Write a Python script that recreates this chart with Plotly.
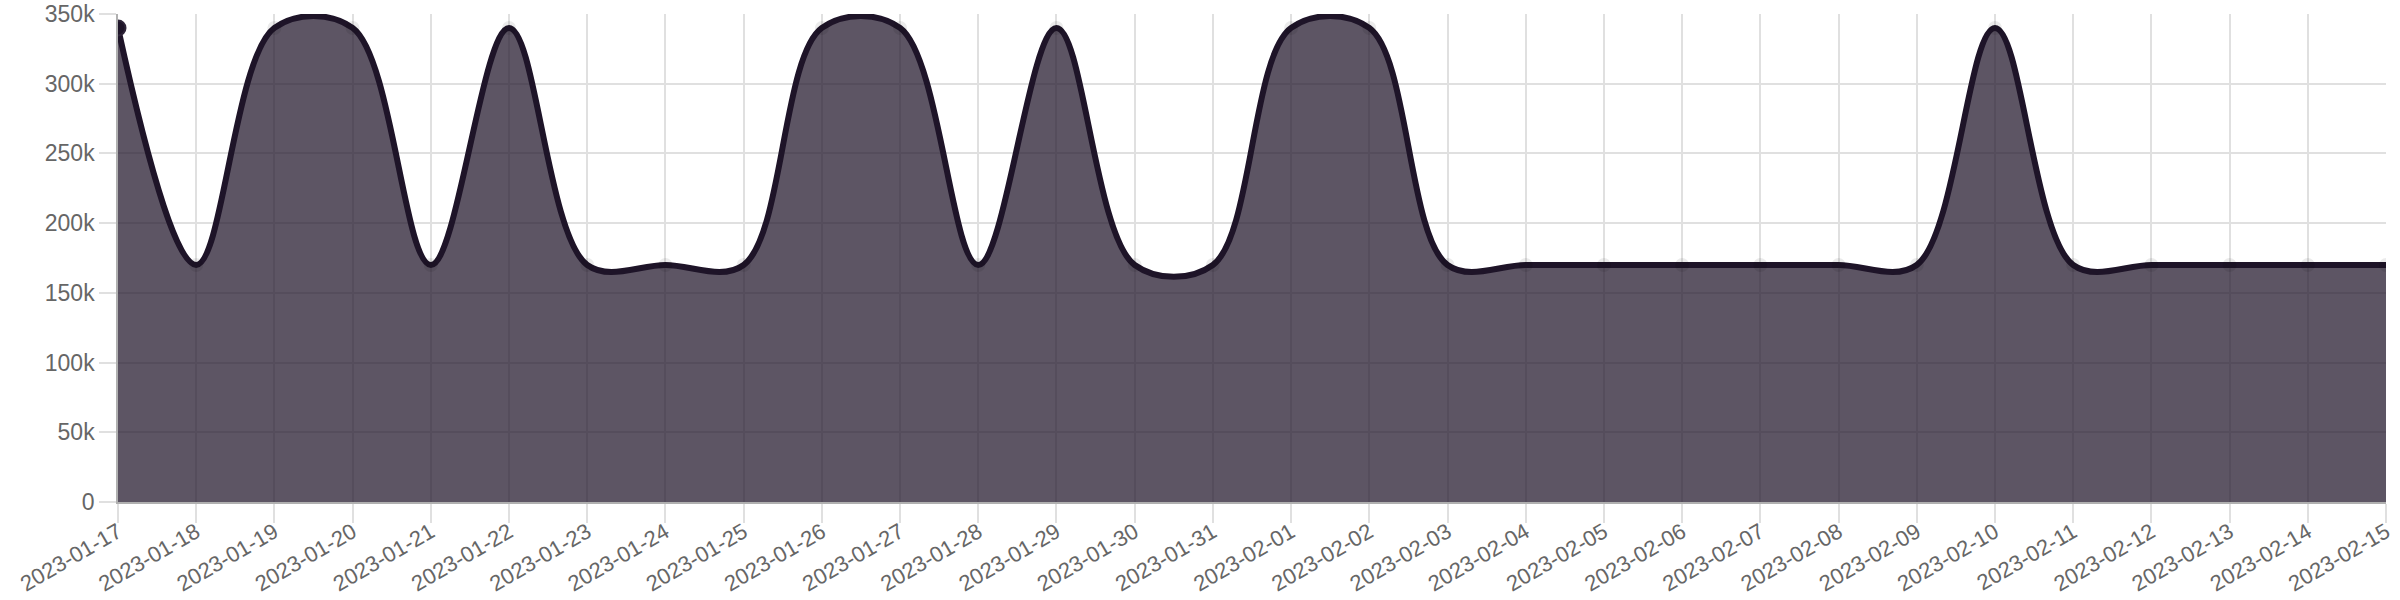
import plotly.graph_objects as go
import pandas as pd

dates = pd.date_range("2023-01-17", "2023-02-15", freq="D").strftime("%Y-%m-%d").tolist()
values = [340000, 170000, 340000, 340000, 170000, 340000, 170000, 170000, 170000, 340000,
          340000, 170000, 340000, 170000, 170000, 340000, 340000, 170000, 170000, 170000,
          170000, 170000, 170000, 170000, 340000, 170000, 170000, 170000, 170000, 170000]
y_ticks = [0, 50000, 100000, 150000, 200000, 250000, 300000, 350000]

fig = go.Figure()
fig.add_trace(go.Scatter(
    x=dates, y=values, mode="lines+markers",
    line=dict(color="#1e1428", width=6, shape="spline", smoothing=1),
    marker=dict(size=14, color="rgba(0,0,0,0.08)", line=dict(width=0)),
    fill="tozeroy", fillcolor="rgba(30,20,40,0.72)",
    showlegend=False, hoverinfo="x+y",
))
fig.add_trace(go.Scatter(
    x=dates[:1], y=values[:1], mode="markers",
    marker=dict(size=15, color="#1e1428", line=dict(width=2, color="#2e2438")),
    showlegend=False, hoverinfo="skip",
))

axis_font = dict(family="Liberation Sans, Arial, sans-serif", size=22, color="#666666")
fig.update_layout(
    width=2400, height=600,
    margin=dict(l=118, r=14, t=14, b=98),
    plot_bgcolor="white", paper_bgcolor="white",
    xaxis=dict(
        type="date", range=[dates[0], dates[-1]],
        tickmode="array", tickvals=dates, ticktext=dates,
        tickangle=-30, tickfont=axis_font, automargin=False,
        ticklabelstandoff=-12,
        showgrid=True, gridcolor="#e0e0e0", gridwidth=1.5,
        ticks="outside", ticklen=19, tickcolor="#e0e0e0", tickwidth=1.5,
        showline=True, linecolor="#b0b0b0", linewidth=1.5,
        zeroline=False,
    ),
    yaxis=dict(
        range=[0, 350000], tickvals=y_ticks, tickformat="~s",
        tickfont=dict(family="Liberation Sans, Arial, sans-serif", size=23, color="#666666"),
        automargin=False,
        showgrid=True, gridcolor="#e0e0e0", gridwidth=1.5,
        ticks="outside", ticklen=17, tickcolor="#e0e0e0", tickwidth=1.5,
        showline=True, linecolor="#b0b0b0", linewidth=1.5,
        zeroline=False,
    ),
)
fig.write_html("out.html", config={"displayModeBar": False},
               post_script="document.body.style.margin='0';document.body.style.overflow='hidden';")
